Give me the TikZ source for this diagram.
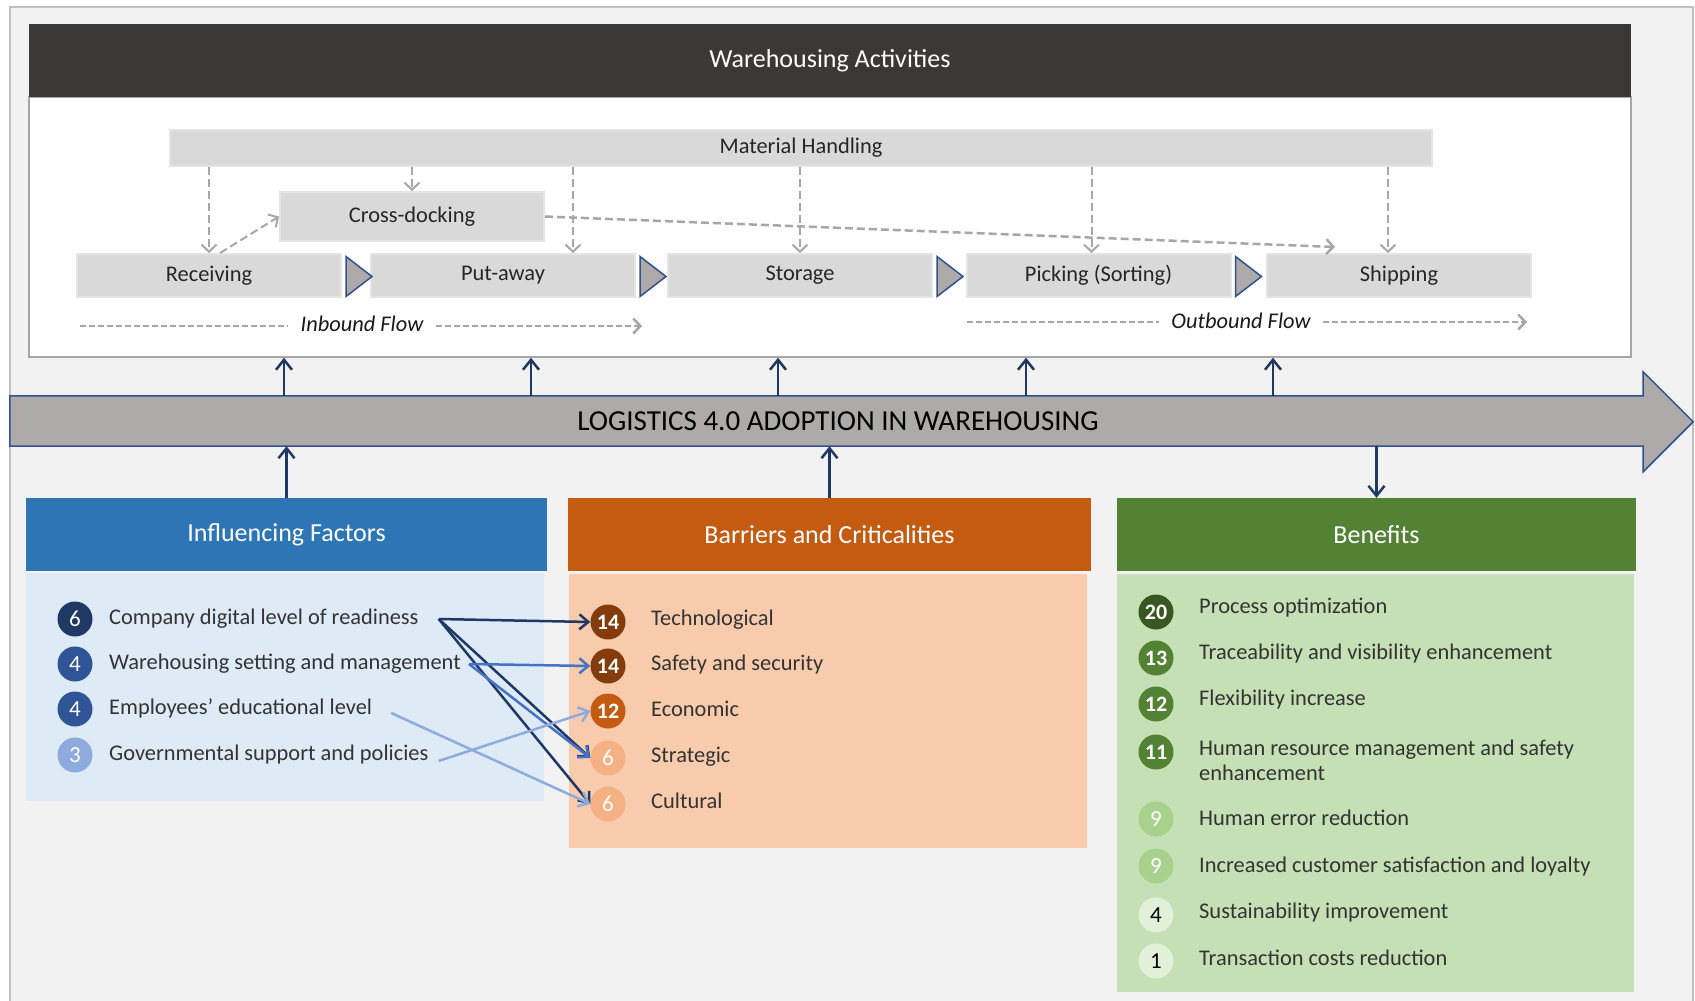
\documentclass[tikz,border=0pt]{standalone}
\usepackage{fontspec}
\setmainfont{Carlito}
\usetikzlibrary{arrows.meta}

\definecolor{bgGray}{HTML}{F2F2F2}
\definecolor{frameGray}{HTML}{BFBFBF}
\definecolor{titleDark}{HTML}{3B3838}
\definecolor{procGray}{HTML}{D9D9D9}
\definecolor{procEdge}{HTML}{E4E4E4}
\definecolor{dashGray}{HTML}{A6A6A6}
\definecolor{navy}{HTML}{1F3864}
\definecolor{arrowEdge}{HTML}{2F528F}
\definecolor{arrowFill}{HTML}{AEAAAA}
\definecolor{midBlue}{HTML}{4472C4}
\definecolor{paleBlue}{HTML}{8FAADC}
\definecolor{ifBlue}{HTML}{2E75B6}
\definecolor{ifLight}{HTML}{DEEBF7}
\definecolor{ifDark}{HTML}{1F3864}
\definecolor{ifMid}{HTML}{2F5597}
\definecolor{bcOrange}{HTML}{C55A11}
\definecolor{bcLight}{HTML}{F8CBAD}
\definecolor{bcDark}{HTML}{843C0C}
\definecolor{bcPale}{HTML}{F4B183}
\definecolor{bnGreen}{HTML}{548235}
\definecolor{bnLight}{HTML}{C5E0B4}
\definecolor{bnDark}{HTML}{385723}
\definecolor{bnPale}{HTML}{A9D18E}
\definecolor{bnWhite}{HTML}{E2F0D9}

\tikzset{
	every node/.style={font=\fontsize{22.4}{27}\selectfont},
	procbox/.style={fill=procGray, draw=procEdge, line width=2pt, minimum width=264pt, minimum height=43pt, inner sep=0pt, text=black!85},
	hdrbox/.style={minimum height=73pt, inner sep=0pt, text=white, font=\fontsize{26}{30}\selectfont},
	listbox/.style={inner sep=0pt},
	mharrow/.style={draw=dashGray, line width=2pt, dash pattern=on 8pt off 4pt, -{Straight Barb[length=7pt,width=15pt]}},
	flowline/.style={draw=dashGray, line width=2.5pt, dash pattern=on 6pt off 3pt},
	flowtxt/.style={font=\fontsize{22.4}{27}\selectfont\itshape, inner xsep=12pt, text=black!90},
	navyarrow/.style={draw=navy, line width=2.5pt, -{Straight Barb[length=10pt,width=16pt]}},
	tri/.style={fill=arrowFill, draw=arrowEdge, line width=1.5pt, line join=miter},
	num/.style={circle, minimum size=35pt, inner sep=0pt, text=white, font=\fontsize{23}{23}\selectfont},
	bnum/.style={num, font=\fontsize{22}{22}\selectfont\bfseries},
	item/.style={anchor=west, inner sep=0pt, text height=16pt, text depth=5pt, text=black!80},
	lnk/.style={draw=#1, line width=2.5pt, -{Straight Barb[length=9pt,width=15pt]}}
}

\begin{document}
\begin{tikzpicture}[x=1pt,y=-1pt]
	\useasboundingbox (0,0) rectangle (1695,1001);
	
	%%Frame
	\draw[fill=bgGray, draw=frameGray, line width=1.5pt] (10,7) rectangle (1693,1010);
	
	%%Warehousing activities
	\node[fill=white, draw=dashGray, line width=1.5pt, minimum width=1602pt, minimum height=260pt] (panel) at (830,227) {};
	\node[hdrbox, fill=titleDark, minimum width=1602pt] (title) at (830,60.5) {Warehousing Activities};
	
	\node[procbox, minimum width=1262pt, minimum height=36pt] (mh) at (801,148) {Material Handling};
	\node[procbox, minimum height=49pt] (cross) at (412,216.5) {Cross-docking};
	\node[procbox] (recv) at (209,275.5) {Receiving};
	\node[procbox] (put) at (503,275.5) {Put-away};
	\node[procbox] (stor) at (800,275.5) {Storage};
	\node[procbox] (pick) at (1098.5,275.5) {Picking (Sorting)};
	\node[procbox] (ship) at (1399,275.5) {Shipping};
	
	%%Steps
	\foreach \a in {recv,put,stor,pick}
		\draw[tri] ([xshift=4pt,yshift=19pt]\a.east) -- ++(26,20) -- ++(-26,20) -- cycle;
	
	%%Material handling arrows
	\coordinate (putTop) at ([xshift=70pt]put.north);
	\coordinate (pickTop) at ([xshift=-7pt]pick.north);
	\coordinate (shipTop) at ([xshift=-11pt]ship.north);
	\draw[mharrow] (mh.south -| recv.north) -- (recv.north);
	\draw[mharrow] (mh.south -| cross.north) -- (cross.north);
	\draw[mharrow] (mh.south -| putTop) -- (putTop);
	\draw[mharrow] (mh.south -| stor.north) -- (stor.north);
	\draw[mharrow] (mh.south -| pickTop) -- (pickTop);
	\draw[mharrow] (mh.south -| shipTop) -- (shipTop);
	
	%%Cross-docking
	\coordinate (xdEnd) at ([xshift=-64pt,yshift=6pt]ship.north);
	\draw[mharrow] ([xshift=11pt]recv.north) -- (cross.west);
	\draw[mharrow, line width=2.5pt] (cross.east) -- (xdEnd);
	
	%%Flows
	\node[flowtxt] (inb) at (362,324) {Inbound Flow};
	\coordinate (inbS) at (80,326);
	\coordinate (inbE) at (642,326);
	\draw[flowline] (inbS) -- (inbS -| inb.west);
	\draw[flowline, -{Straight Barb[length=7pt,width=15pt]}] (inbE -| inb.east) -- (inbE);
	
	\node[flowtxt] (outb) at (1241,321) {Outbound Flow};
	\coordinate (outS) at (967,322);
	\coordinate (outE) at (1527,322);
	\draw[flowline] (outS) -- (outS -| outb.west);
	\draw[flowline, -{Straight Barb[length=7pt,width=15pt]}] (outE -| outb.east) -- (outE);
	
	%%Logistics 4.0 arrow
	\node[minimum width=1633pt, minimum height=50pt, inner sep=0pt] (shaft) at (826.5,421) {};
	\draw[fill=arrowFill, draw=arrowEdge, line width=1.5pt] (shaft.north west) -- (shaft.north east) -- ++(0,-24) -- ++(50,50) -- ++(-50,50) -- (shaft.south east) -- (shaft.south west) -- cycle;
	\node[font=\fontsize{29}{32}\selectfont, text=black] (l40) at (838,421) {LOGISTICS 4.0 ADOPTION IN WAREHOUSING};
	
	\foreach \x in {284,531,778,1026,1273}
		\draw[navyarrow] (shaft.north -| \x,0) -- (panel.south -| \x,0);
	
	%%Headers
	\node[hdrbox, fill=ifBlue, minimum width=521pt] (ifh) at (286.5,534.5) {Influencing Factors};
	\node[hdrbox, fill=bcOrange, minimum width=523pt] (bch) at (829.5,534.5) {Barriers and Criticalities};
	\node[hdrbox, fill=bnGreen, minimum width=519pt] (bnh) at (1376.5,534.5) {Benefits};
	
	\draw[navyarrow] (ifh.north) -- (shaft.south -| ifh.north);
	\draw[navyarrow] (bch.north) -- (shaft.south -| bch.north);
	\draw[navyarrow] (shaft.south -| bnh.north) -- (bnh.north);
	
	%%Lists
	\node[listbox, fill=ifLight, minimum width=518pt, minimum height=228pt] (ifl) at (285,687) {};
	\node[listbox, fill=bcLight, minimum width=518pt, minimum height=274pt] (bcl) at (828,711) {};
	\node[listbox, fill=bnLight, minimum width=517pt, minimum height=418pt] (bnl) at (1375.5,783) {};
	
	%%Influencing factors
	\node[num, fill=ifDark] (f1) at (75,619) {6};
	\node[num, fill=ifMid] (f2) at (75,664) {4};
	\node[num, fill=ifMid] (f3) at (75,709) {4};
	\node[num, fill=paleBlue] (f4) at (75,755) {3};
	\node[item] (ft1) at (109,619) {Company digital level of readiness};
	\node[item] (ft2) at (109,664) {Warehousing setting and management};
	\node[item] (ft3) at (109,709) {Employees’ educational level};
	\node[item] (ft4) at (109,755) {Governmental support and policies};
	
	%%Barriers and criticalities
	\node[bnum, fill=bcDark] (b1) at (608,622) {14};
	\node[bnum, fill=bcDark] (b2) at (608,666) {14};
	\node[bnum, fill=bcOrange] (b3) at (608,711) {12};
	\node[num, fill=bcPale] (b4) at (608,758) {6};
	\node[num, fill=bcPale] (b5) at (608,804) {6};
	\node[item] (bt1) at (651,620) {Technological};
	\node[item] (bt2) at (651,665) {Safety and security};
	\node[item] (bt3) at (651,711) {Economic};
	\node[item] (bt4) at (651,757) {Strategic};
	\node[item] (bt5) at (651,803) {Cultural};
	
	%%Benefits
	\node[bnum, fill=bnDark] (n1) at (1156,612) {20};
	\node[bnum, fill=bnGreen] (n2) at (1156,658) {13};
	\node[bnum, fill=bnGreen] (n3) at (1156,704) {12};
	\node[bnum, fill=bnGreen] (n4) at (1156,752) {11};
	\node[num, fill=bnPale] (n5) at (1156,819) {9};
	\node[num, fill=bnPale] (n6) at (1156,866) {9};
	\node[num, fill=bnWhite, text=black] (n7) at (1156,915) {4};
	\node[num, fill=bnWhite, text=black] (n8) at (1156,961) {1};
	\node[item] (nt1) at (1199,608) {Process optimization};
	\node[item] (nt2) at (1199,654) {Traceability and visibility enhancement};
	\node[item] (nt3) at (1199,700) {Flexibility increase};
	\node[item, align=left, font=\fontsize{22.4}{25}\selectfont, text height=, text depth=] (nt4) at (1199,760.5) {Human resource management and safety\\enhancement};
	\node[item] (nt5) at (1199,820) {Human error reduction};
	\node[item] (nt6) at (1199,867) {Increased customer satisfaction and loyalty};
	\node[item] (nt7) at (1199,913) {Sustainability improvement};
	\node[item] (nt8) at (1199,960) {Transaction costs reduction};
	
	%%Links
	\draw[lnk=navy] ([xshift=20pt]ft1.east) -- (b1.west);
	\draw[lnk=navy] ([xshift=20pt]ft1.east) -- (b4.west);
	\draw[lnk=navy] ([xshift=20pt]ft1.east) -- (b5.west);
	\draw[lnk=midBlue] ([xshift=8pt]ft2.east) -- (b2.west);
	\draw[lnk=midBlue] ([xshift=8pt]ft2.east) -- (b4.west);
	\draw[lnk=paleBlue] ([xshift=19pt,yshift=-4pt]ft3.east) -- (b5.west);
	\draw[lnk=paleBlue] ([xshift=10pt,yshift=-6pt]ft4.east) -- (b3.west);
\end{tikzpicture}
\end{document}
